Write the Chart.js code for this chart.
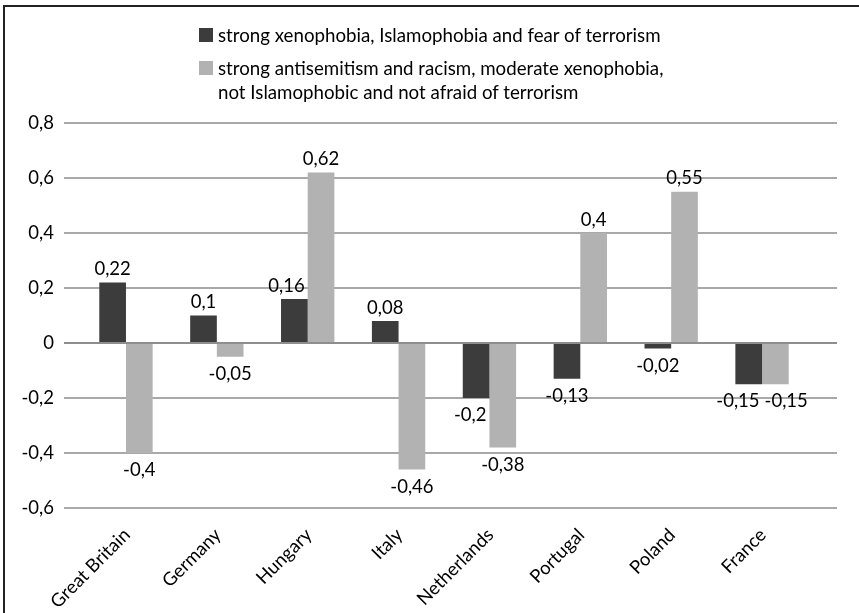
<!DOCTYPE html>
<html>
<head>
<meta charset="utf-8">
<script src="https://cdn.jsdelivr.net/npm/chart.js@4/dist/chart.umd.min.js"></script>
<style>
  html, body { margin: 0; padding: 0; background: #fff; overflow: hidden; }
  #wrap { position: relative; width: 859px; height: 613px; }
  #frame { position: absolute; left: 3px; top: 5px; width: 900px; height: 700px;
           border-left: 2px solid #222; border-top: 2px solid #222; pointer-events: none; }
  canvas { position: absolute; left: 0; top: 0; }
  .leg { position: absolute; font-family: Lato, "Open Sans", sans-serif; font-size: 18.7px;
         color: #000; line-height: 24px; white-space: nowrap; }
  .leg .box { position: absolute; width: 14px; height: 14px; left: -19px; top: 5px; }
</style>
</head>
<body>
<div id="wrap">
  <canvas id="c" width="859" height="613"></canvas>
  <div id="frame"></div>
  <div class="leg" id="leg1" style="left:218px; top:23px;"><span class="box" style="background:#3c3c3c"></span><span id="t1"></span></div>
  <div class="leg" id="leg2" style="left:218px; top:56px;"><span class="box" style="background:#b2b2b2"></span><span id="t2"></span></div>
</div>
<script>
const categories = ["Great Britain", "Germany", "Hungary", "Italy", "Netherlands", "Portugal", "Poland", "France"];
const seriesNames = [
  "strong xenophobia, Islamophobia and fear of terrorism",
  ["strong antisemitism and racism, moderate xenophobia,", "not Islamophobic and not afraid of terrorism"]
];
const xenophobiaValues = [0.22, 0.10, 0.16, 0.08, -0.20, -0.13, -0.02, -0.15];
const antisemitismValues = [-0.40, -0.05, 0.62, -0.46, -0.38, 0.40, 0.55, -0.15];
const yTicks = [-0.6, -0.4, -0.2, 0, 0.2, 0.4, 0.6, 0.8];
const colors = ["#3c3c3c", "#b2b2b2"];

document.getElementById('t1').textContent = seriesNames[0];
document.getElementById('t2').innerHTML = seriesNames[1].join('<br>');

const FONT = { family: 'Lato, "Open Sans", sans-serif', size: 18.5 };
const fmt = v => String(Math.round(v * 100) / 100).replace('.', ',');

// compute label positions, nudging labels that collide with the neighbouring bar or label
function labelLayout(chart) {
  const ctx = chart.ctx;
  ctx.save();
  ctx.font = `${FONT.size}px ${FONT.family}`;
  const out = [[], []];
  const n = categories.length;
  for (let i = 0; i < n; i++) {
    const items = [0, 1].map(di => {
      const bar = chart.getDatasetMeta(di).data[i];
      const v = chart.data.datasets[di].data[i].y;
      const txt = fmt(v);
      const w = ctx.measureText(txt).width;
      const pos = v >= 0;
      const y = pos ? bar.y - 4 : bar.y + 8;
      const top = pos ? y - 17 : y;
      const bottom = pos ? y : y + 17;
      return { txt, w, x: bar.x, y, pos, top, bottom, bar, v };
    });
    const a = items[0], b = items[1];
    const bLeft = b.bar.x - b.bar.width / 2;
    const bTop = Math.min(b.bar.y, b.bar.base), bBot = Math.max(b.bar.y, b.bar.base);
    if (a.x + a.w / 2 > bLeft - 3 && a.bottom > bTop && a.top < bBot) {
      a.x = bLeft - 3 - a.w / 2;
    }
    if (a.pos === b.pos && Math.abs(a.y - b.y) < 17) {
      const overlap = (a.x + a.w / 2 + 5) - (b.x - b.w / 2);
      if (overlap > 0) { a.x -= overlap / 2; b.x += overlap / 2; }
    }
    out[0].push(a); out[1].push(b);
  }
  ctx.restore();
  return out;
}

function drawLabels(chart, di) {
  const layout = labelLayout(chart)[di];
  const ctx = chart.ctx;
  ctx.save();
  ctx.font = `${FONT.size}px ${FONT.family}`;
  ctx.fillStyle = '#000';
  ctx.textAlign = 'center';
  layout.forEach(l => {
    ctx.textBaseline = l.pos ? 'bottom' : 'top';
    ctx.fillText(l.txt, l.x, l.y);
  });
  ctx.restore();
}

const dataLabels = {
  id: 'dataLabels',
  afterDatasetDraw(chart, args) { drawLabels(chart, args.index); }
};

const toPoints = vals => vals.map((v, i) => ({ x: i, y: v }));

new Chart(document.getElementById('c'), {
  type: 'bar',
  data: {
    datasets: [
      { label: seriesNames[0], data: toPoints(xenophobiaValues), backgroundColor: colors[0], categoryPercentage: 0.587, barPercentage: 1 },
      { label: seriesNames[1].join(' '), data: toPoints(antisemitismValues), backgroundColor: colors[1], categoryPercentage: 0.587, barPercentage: 1 }
    ]
  },
  options: {
    responsive: false,
    animation: false,
    devicePixelRatio: 1,
    layout: { padding: { left: 0, right: 22, top: 123, bottom: 0 } },
    plugins: { legend: { display: false }, tooltip: { enabled: false } },
    scales: {
      x: {
        type: 'linear',
        min: -0.682, max: 7.825,
        offset: false,
        afterBuildTicks(s) { s.ticks = categories.map((c, i) => ({ value: i })); },
        grid: { display: false, drawTicks: false },
        border: { display: false },
        ticks: { font: FONT, color: '#000', minRotation: 45, maxRotation: 45, padding: 16, labelOffset: 1, autoSkip: false,
                 callback: v => categories[v] },
        afterFit(s) { s.height = 105; }
      },
      y: {
        min: -0.6, max: 0.8,
        afterBuildTicks(s) { s.ticks = yTicks.map(v => ({ value: v })); },
        grid: { color: ctx => (ctx.tick && ctx.tick.value === 0 ? '#8e8e8e' : '#a9a9a9'), lineWidth: 2, drawTicks: false },
        border: { display: false },
        ticks: { font: FONT, color: '#000', padding: 10, callback: v => fmt(v) },
        afterFit(s) { s.width = 64; }
      }
    }
  },
  plugins: [dataLabels]
});
</script>
</body>
</html>
